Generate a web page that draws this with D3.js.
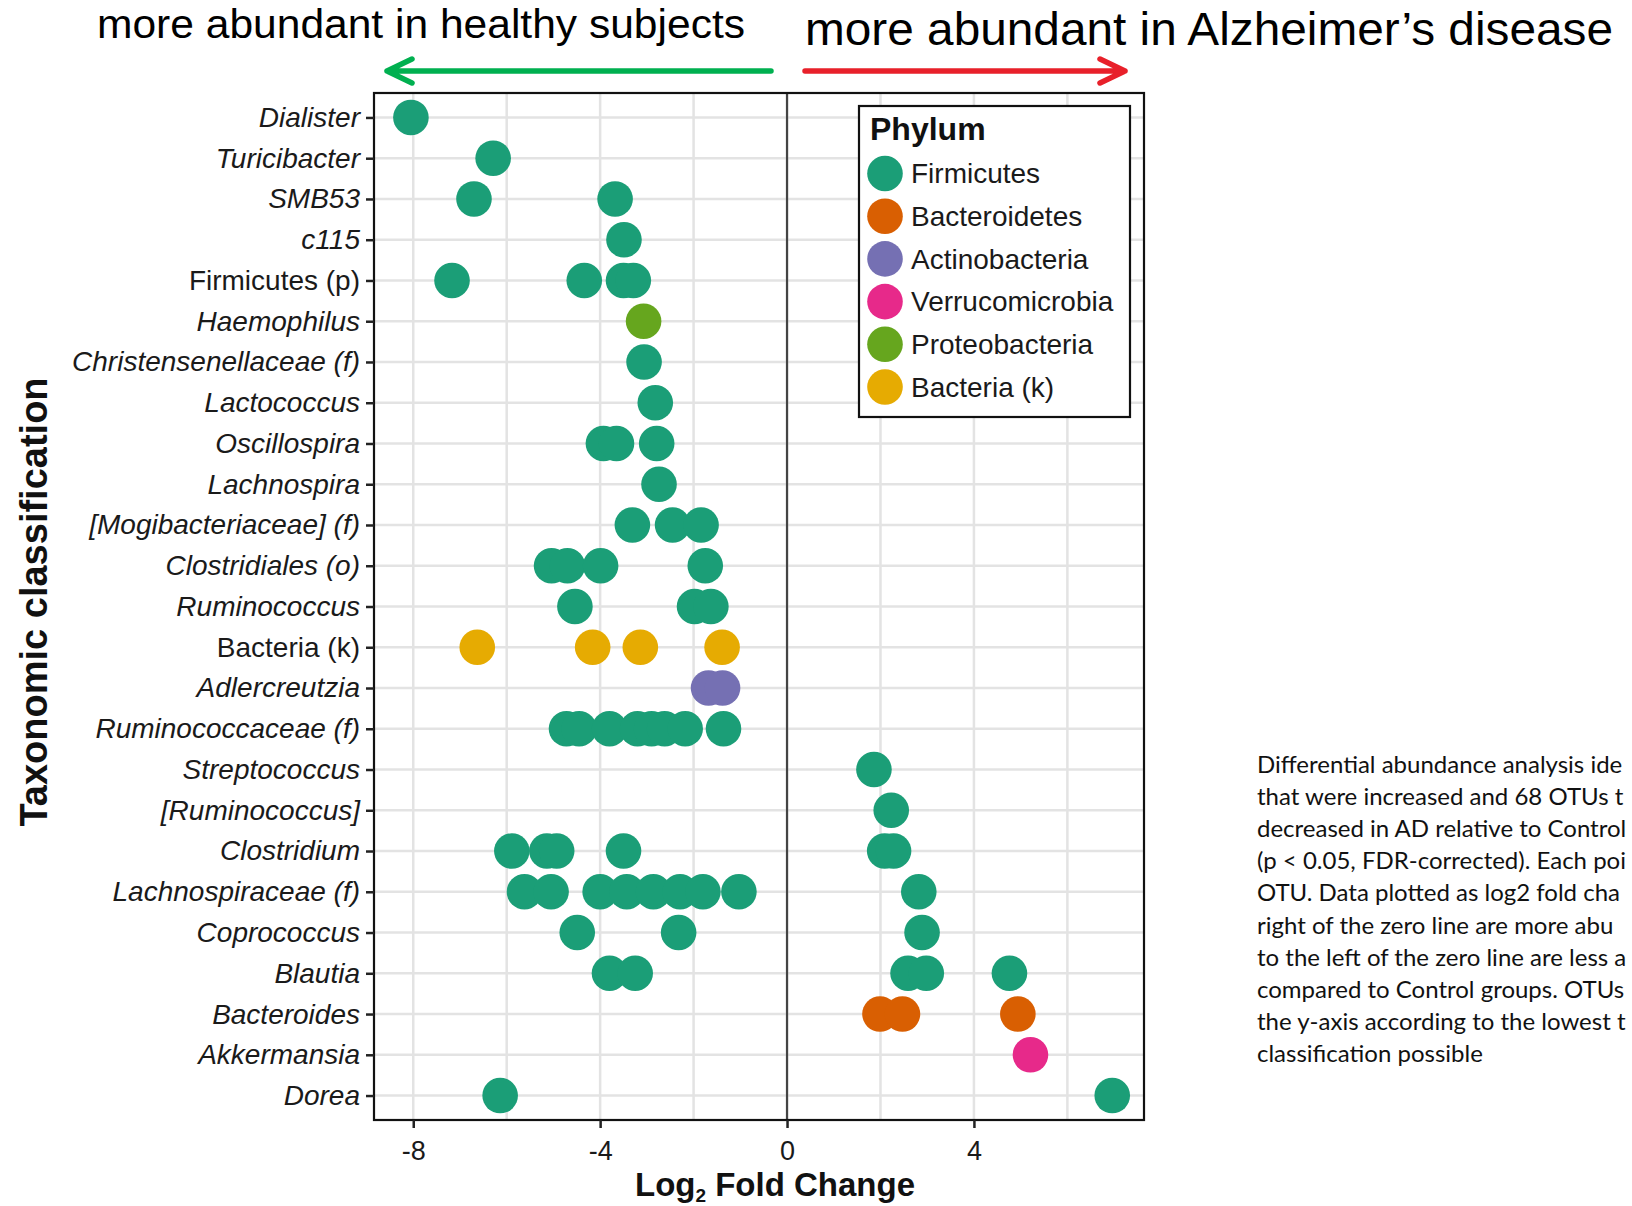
<!DOCTYPE html>
<html>
  <head>
    <meta charset="utf-8">
    <title></title>
    <script src="https://cdn.jsdelivr.net/npm/d3@7/dist/d3.min.js" charset="utf-8"></script>
    <style media="screen">
    body {margin:0; background:#fff; overflow:hidden;}
    #svg1 {display:block;}
    text {font-family:Arial, "Liberation Sans", Helvetica, sans-serif;}
    </style>
    <script>
    // taxa, top to bottom
    var taxa = ['Dialister', 'Turicibacter', 'SMB53', 'c115', 'Firmicutes (p)', 'Haemophilus',
      'Christensenellaceae (f)', 'Lactococcus', 'Oscillospira', 'Lachnospira',
      '[Mogibacteriaceae] (f)', 'Clostridiales (o)', 'Ruminococcus', 'Bacteria (k)',
      'Adlercreutzia', 'Ruminococcaceae (f)', 'Streptococcus', '[Ruminococcus]',
      'Clostridium', 'Lachnospiraceae (f)', 'Coprococcus', 'Blautia', 'Bacteroides',
      'Akkermansia', 'Dorea'];
    // labels not written in italics
    var uprightTaxa = ['Firmicutes (p)', 'Bacteria (k)'];

    var phyla = ['Firmicutes', 'Bacteroidetes', 'Actinobacteria', 'Verrucomicrobia', 'Proteobacteria', 'Bacteria (k)'];
    var phylaColors = ['#1b9e77', '#d95f02', '#7570b3', '#e7298a', '#66a61e', '#e6ab02'];

    // phylum of each taxon (same order as taxa)
    var taxonPhylum = ['Firmicutes', 'Firmicutes', 'Firmicutes', 'Firmicutes', 'Firmicutes', 'Proteobacteria',
      'Firmicutes', 'Firmicutes', 'Firmicutes', 'Firmicutes',
      'Firmicutes', 'Firmicutes', 'Firmicutes', 'Bacteria (k)',
      'Actinobacteria', 'Firmicutes', 'Firmicutes', 'Firmicutes',
      'Firmicutes', 'Firmicutes', 'Firmicutes', 'Firmicutes', 'Bacteroidetes',
      'Verrucomicrobia', 'Firmicutes'];

    // log2 fold change of each OTU, grouped by taxon (same order as taxa)
    var otuLog2FC = [
      [-8.05],
      [-6.29],
      [-6.70, -3.68],
      [-3.49],
      [-7.17, -4.34, -3.50, -3.29],
      [-3.07],
      [-3.06],
      [-2.82],
      [-3.93, -3.65, -2.79],
      [-2.74],
      [-3.31, -2.45, -1.84],
      [-5.04, -4.70, -3.99, -1.75],
      [-4.54, -1.98, -1.63],
      [-6.63, -4.16, -3.14, -1.39],
      [-1.68, -1.38],
      [-4.72, -4.45, -3.80, -3.20, -2.90, -2.62, -2.18, -1.36],
      [1.86],
      [2.23],
      [-5.89, -5.14, -4.93, -3.50, 2.09, 2.28],
      [-5.62, -5.05, -4.00, -3.43, -2.86, -2.29, -1.80, -1.03, 2.82],
      [-4.49, -2.32, 2.89],
      [-3.80, -3.25, 2.59, 2.98, 4.76],
      [1.99, 2.47, 4.94],
      [5.21],
      [-6.14, 6.96]
    ];

    var xDomain = [-8.84, 7.64];
    var xTickValues = [-8, -4, 0, 4];
    var xGridValues = [-8, -6, -4, -2, 0, 2, 4, 6];

    // caption, as far as it shows before the right edge
    var captionLines = [
      'Differential abundance analysis ide',
      'that were increased and 68 OTUs t',
      'decreased in AD relative to Control',
      '(p < 0.05, FDR-corrected). Each poi',
      'OTU. Data plotted as log2 fold cha',
      'right of the zero line are more abu',
      'to the left of the zero line are less a',
      'compared to Control groups. OTUs',
      'the y-axis according to the lowest t',
      'classification possible'
    ];

    window.onload = function () {
      var svg = d3.select('#svg1');
      var left = 374, right = 1144, top = 93, bottom = 1120;

      // points flat list
      var points = [];
      taxa.forEach(function (t, i) {
        otuLog2FC[i].forEach(function (v) {
          points.push({taxon: t, phylum: taxonPhylum[i], lfc: v});
        });
      });

      var x = d3.scaleLinear().domain(xDomain).range([left, right]);
      var y = d3.scalePoint().domain(taxa).range([top, bottom]).padding(0.6);
      var color = d3.scaleOrdinal().domain(phyla).range(phylaColors);

      // grid
      var grid = svg.append('g');
      grid.selectAll('line.v').data(xGridValues).enter().append('line')
        .attr('x1', function (d) { return x(d); }).attr('x2', function (d) { return x(d); })
        .attr('y1', top).attr('y2', bottom)
        .attr('stroke', '#e3e3e3').attr('stroke-width', 2.5);
      grid.selectAll('line.h').data(taxa).enter().append('line')
        .attr('x1', left).attr('x2', right)
        .attr('y1', function (d) { return y(d); }).attr('y2', function (d) { return y(d); })
        .attr('stroke', '#e3e3e3').attr('stroke-width', 2.5);

      // zero line
      svg.append('line')
        .attr('x1', x(0)).attr('x2', x(0)).attr('y1', top).attr('y2', bottom)
        .attr('stroke', '#444').attr('stroke-width', 2.2);

      // points
      svg.append('g').selectAll('circle').data(points).enter().append('circle')
        .attr('cx', function (d) { return x(d.lfc); })
        .attr('cy', function (d) { return y(d.taxon); })
        .attr('r', 17.8)
        .attr('fill', function (d) { return color(d.phylum); });

      // panel border
      svg.append('rect')
        .attr('x', left).attr('y', top).attr('width', right - left).attr('height', bottom - top)
        .attr('fill', 'none').attr('stroke', '#111').attr('stroke-width', 2.2);

      // axes
      var xAxis = svg.append('g')
        .attr('transform', 'translate(0,' + bottom + ')')
        .call(d3.axisBottom(x).tickValues(xTickValues).tickFormat(function (d) { return String(d); })
          .tickSize(8).tickPadding(13));
      var yAxis = svg.append('g')
        .attr('transform', 'translate(' + left + ',0)')
        .call(d3.axisLeft(y).tickSize(8).tickPadding(6));
      [xAxis, yAxis].forEach(function (a) {
        a.select('.domain').remove();
        a.selectAll('.tick line').attr('stroke', '#222').attr('stroke-width', 2.5);
        a.selectAll('.tick text').attr('fill', '#1a1a1a')
          .style('font-family', 'Arial, "Liberation Sans", sans-serif').style('font-size', '28px');
      });
      xAxis.selectAll('.tick text').style('font-size', '27px');
      yAxis.selectAll('.tick text')
        .style('font-style', function (d) { return uprightTaxa.indexOf(d) >= 0 ? 'normal' : 'italic'; });

      // axis titles
      var xt = svg.append('text')
        .attr('x', 775).attr('y', 1196)
        .attr('text-anchor', 'middle')
        .style('font-size', '33px').style('font-weight', 'bold').attr('fill', '#111');
      xt.append('tspan').text('Log');
      xt.append('tspan').text('2').attr('dy', 6).style('font-size', '19px');
      xt.append('tspan').text(' Fold Change').attr('dy', -6);

      svg.append('text')
        .attr('transform', 'translate(34,602) rotate(-90)')
        .attr('text-anchor', 'middle').attr('dy', '0.35em')
        .style('font-size', '38px').style('font-weight', 'bold').attr('fill', '#111')
        .text('Taxonomic classification');

      // legend
      var lg = svg.append('g');
      lg.append('rect')
        .attr('x', 859).attr('y', 106).attr('width', 271).attr('height', 311)
        .attr('fill', '#fff').attr('stroke', '#111').attr('stroke-width', 2.2);
      lg.append('text').attr('x', 870).attr('y', 140)
        .style('font-size', '32px').style('font-weight', 'bold').attr('fill', '#111')
        .text('Phylum');
      var item = lg.selectAll('g.item').data(phyla).enter().append('g')
        .attr('transform', function (d, i) { return 'translate(885,' + (173.5 + i * 42.7) + ')'; });
      item.append('circle').attr('r', 17.8).attr('fill', function (d) { return color(d); });
      item.append('text').attr('x', 26).attr('dy', '0.35em')
        .style('font-size', '28px').attr('fill', '#1a1a1a')
        .text(function (d) { return d; });

      // header
      svg.append('text').attr('x', 97).attr('y', 38)
        .attr('textLength', 648).attr('lengthAdjust', 'spacingAndGlyphs')
        .style('font-size', '40px').attr('fill', '#000')
        .text('more abundant in healthy subjects');
      svg.append('text').attr('x', 805).attr('y', 45)
        .attr('textLength', 808).attr('lengthAdjust', 'spacingAndGlyphs')
        .style('font-size', '46px').attr('fill', '#000')
        .text('more abundant in Alzheimer\u2019s disease');

      var ay = 71;
      svg.append('path')
        .attr('d', 'M771,' + ay + 'H387M412,' + (ay - 12) + 'L387,' + ay + 'L412,' + (ay + 12))
        .attr('fill', 'none').attr('stroke', '#00b050').attr('stroke-width', 5.5)
        .attr('stroke-linecap', 'round').attr('stroke-linejoin', 'round');
      svg.append('path')
        .attr('d', 'M805,' + ay + 'H1125M1100,' + (ay - 12) + 'L1125,' + ay + 'L1100,' + (ay + 12))
        .attr('fill', 'none').attr('stroke', '#e8202a').attr('stroke-width', 5.5)
        .attr('stroke-linecap', 'round').attr('stroke-linejoin', 'round');

      // caption
      svg.append('g').selectAll('text').data(captionLines).enter().append('text')
        .attr('x', 1257).attr('y', function (d, i) { return 773 + i * 32.1; })
        .style('font-family', 'Lato, "Open Sans", sans-serif').style('font-size', '24px')
        .attr('fill', '#111')
        .text(function (d) { return d; });
    };
    </script>
  </head>
  <body>
    <svg id="svg1" width="1632" height="1206"></svg>
  </body>
</html>
